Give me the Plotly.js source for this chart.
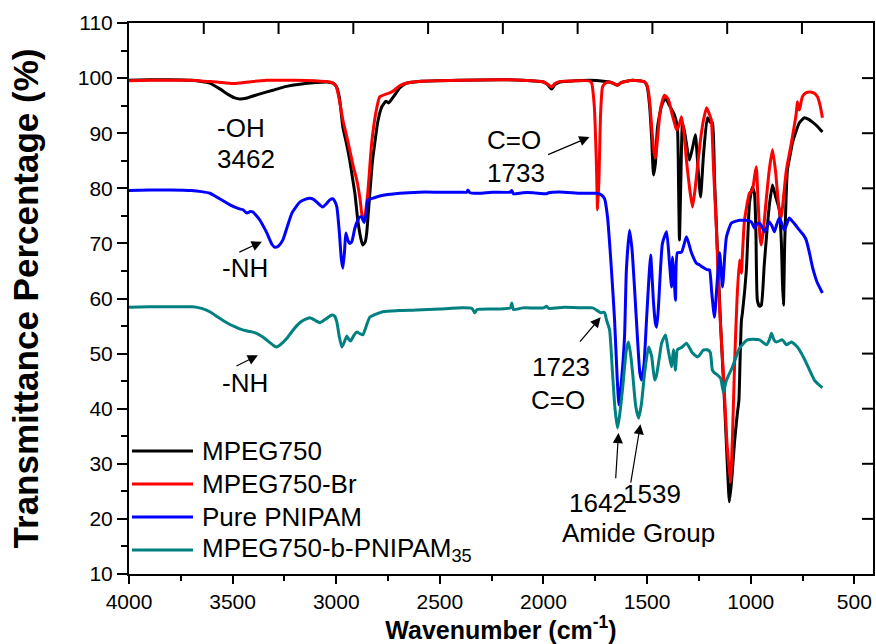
<!DOCTYPE html>
<html>
<head>
<meta charset="utf-8">
<script src="https://cdn.plot.ly/plotly-3.0.1.min.js"></script>
<style>html,body{margin:0;padding:0;background:#fff;}#chart{width:876px;height:644px;}</style>
</head>
<body>
<div id="chart"></div>
<script>
// ---------- DATA ----------
const seriesNames = ["MPEG750", "MPEG750-Br", "Pure PNIPAM", "MPEG750-b-PNIPAM<sub>35</sub>"];
const seriesColors = ["#000000", "#ff0000", "#0000ff", "#008080"];

const mpegWn = [4000,3900,3800,3700,3650,3610,3560,3520,3490,3465,3430,3380,3306,3240,3176,3100,3045,3016,3000,2985,2968,2950,2935,2920,2910,2896,2882,2872,2860,2853,2838,2825,2814,2800,2780,2760,2748,2742,2720,2694,2660,2600,2400,2211,2100,2000,1980,1961,1945,1920,1850,1778,1700,1681,1660,1643,1625,1570,1512,1500,1488,1478,1469,1460,1450,1430,1411,1392,1368,1354,1348,1344,1338,1329,1318,1296,1280,1267,1255,1242,1228,1209,1195,1185,1175,1160,1145,1125,1112,1103,1092,1078,1065,1057,1052,1045,1040,1021,1006,992,982,975,968,958,949,935,924,910,895,880,862,852,847,842,836,823,810,799,780,765,741,720,702,680,654];
const mpegT = [99.6,99.7,99.7,99.6,99.4,99.1,98.0,97.0,96.4,96.2,96.4,97.0,97.8,98.5,98.9,99.2,99.3,99.1,98.5,96.5,91.1,88.0,85.1,81.5,79.1,74.2,71.0,69.7,70.3,71.9,79.1,85.0,88.2,92.0,94.8,95.8,95.5,95.7,96.8,98.2,99.1,99.4,99.6,99.7,99.6,99.3,98.8,98.0,98.8,99.3,99.5,99.6,99.4,99.3,99.0,98.7,99.2,99.6,99.3,98.5,95.0,89.0,82.4,84.5,91.0,95.0,96.4,95.0,93.3,91.1,80.0,70.6,80.0,91.9,90.0,85.1,87.5,89.7,84.0,78.4,86.0,92.8,92.0,91.9,82.0,68.0,55.0,40.0,29.0,23.1,27.0,34.0,39.0,41.5,48.0,56.0,57.4,65.2,77.3,80.2,79.1,72.0,59.7,58.6,58.8,66.0,71.2,77.0,80.6,78.5,76.1,70.0,63.0,58.8,70.0,83.3,86.0,88.2,90.5,91.9,92.8,92.5,92.0,91.3,90.2];

const brWn = [4000,3900,3800,3700,3620,3576,3500,3465,3400,3335,3200,3100,3045,3016,3000,2985,2968,2950,2935,2918,2901,2885,2872,2862,2848,2838,2829,2810,2790,2760,2742,2720,2694,2660,2600,2400,2211,2100,2000,1980,1961,1945,1920,1850,1780,1768,1755,1745,1739,1732,1725,1715,1700,1681,1660,1643,1625,1570,1512,1500,1488,1478,1466,1459,1450,1435,1416,1400,1392,1380,1368,1358,1345,1334,1322,1310,1295,1281,1268,1257,1245,1230,1213,1200,1190,1180,1165,1150,1130,1115,1098,1088,1078,1066,1054,1045,1040,1030,1006,992,980,973,965,955,949,940,925,910,895,880,871,860,852,843,828,804,780,775,768,765,751,735,717,695,678,665,654];
const brT = [99.5,99.6,99.6,99.6,99.4,99.3,99.0,99.1,99.4,99.6,99.6,99.5,99.4,99.1,98.5,96.0,92.4,89.5,87.0,84.0,81.5,78.0,74.2,75.0,79.1,84.0,88.2,93.5,96.6,97.1,97.3,97.8,98.6,99.1,99.4,99.6,99.7,99.6,99.3,98.9,98.4,99.0,99.4,99.5,99.5,99.1,95.0,85.0,76.1,82.0,93.0,98.4,99.1,99.3,99.0,98.7,99.2,99.6,99.3,98.7,96.0,91.0,86.5,85.5,89.0,94.5,96.9,96.3,95.5,93.5,91.9,90.6,91.5,93.0,90.0,85.0,80.0,76.6,80.0,83.9,88.0,92.0,94.6,93.5,92.4,84.0,72.0,58.0,45.0,34.0,26.7,35.0,48.0,60.0,67.0,64.6,68.0,74.2,79.1,79.7,82.5,83.9,78.0,71.0,69.7,72.0,78.0,83.5,87.0,83.0,79.1,75.5,74.8,78.0,83.3,88.2,93.7,95.7,94.5,94.2,96.6,97.3,97.5,97.3,96.6,95.0,92.8];

const pnipamWn = [4000,3900,3800,3700,3650,3610,3576,3540,3513,3470,3450,3431,3415,3402,3385,3368,3350,3335,3310,3296,3280,3258,3235,3214,3195,3176,3150,3127,3110,3094,3065,3045,3031,3016,3005,2997,2985,2975,2968,2960,2954,2944,2935,2925,2910,2895,2886,2877,2865,2855,2848,2838,2790,2694,2600,2500,2400,2370,2365,2355,2308,2250,2160,2153,2145,2100,2050,1985,1975,1900,1826,1744,1720,1705,1691,1672,1657,1645,1636,1625,1609,1600,1585,1573,1561,1546,1535,1527,1515,1503,1490,1483,1469,1460,1454,1446,1440,1426,1406,1392,1382,1377,1370,1363,1354,1334,1310,1286,1262,1247,1233,1209,1199,1188,1175,1162,1150,1136,1125,1117,1093,1054,1006,995,982,970,958,946,934,922,910,898,886,874,862,850,838,826,814,790,765,745,732,715,702,680,654];
const pnipamT = [79.6,79.7,79.7,79.6,79.4,79.1,78.4,77.6,77.0,76.3,76.1,75.5,75.8,75.7,75.0,74.2,73.0,71.9,69.8,69.3,69.5,70.6,73.2,75.5,76.6,77.5,78.0,78.2,78.0,77.5,76.6,77.3,77.9,78.1,77.5,76.6,72.0,67.0,65.5,68.5,71.9,70.6,70.0,70.3,72.8,74.3,74.8,74.8,73.8,75.5,77.9,78.0,78.6,79.1,79.3,79.3,79.3,79.3,79.7,79.2,79.1,79.3,79.3,79.6,79.0,79.2,79.2,79.0,79.2,79.3,79.1,79.1,78.8,78.1,74.8,65.2,56.1,46.0,40.7,44.5,53.0,65.2,72.4,69.0,62.1,52.5,46.5,45.2,48.0,56.0,64.5,67.9,59.2,55.5,54.8,58.0,62.1,70.0,72.1,66.4,62.1,67.5,64.0,59.7,68.3,68.4,71.2,68.3,66.4,66.1,65.7,65.2,65.2,61.0,56.6,63.0,68.3,62.1,68.0,71.2,73.7,74.2,74.1,73.8,72.8,73.5,73.7,73.0,72.1,73.0,73.9,73.2,72.1,73.5,74.6,73.6,72.4,73.5,74.6,73.6,72.4,71.5,70.6,68.0,65.7,63.0,61.0];

const copoWn = [4000,3900,3800,3692,3650,3610,3570,3528,3490,3465,3430,3402,3375,3354,3320,3300,3287,3270,3238,3210,3176,3150,3127,3100,3079,3050,3021,3008,2997,2985,2973,2962,2949,2940,2930,2915,2901,2885,2872,2855,2838,2775,2700,2612,2500,2390,2345,2332,2320,2250,2211,2160,2153,2145,2100,2000,1985,1975,1900,1800,1763,1740,1724,1712,1705,1695,1681,1667,1655,1643,1632,1619,1600,1590,1580,1570,1555,1541,1527,1512,1493,1478,1464,1455,1440,1430,1411,1400,1392,1382,1373,1363,1354,1330,1310,1281,1257,1247,1230,1209,1195,1185,1175,1160,1145,1132,1117,1088,1070,1054,1016,958,924,910,900,888,876,847,828,804,775,755,732,710,693,670,654];
const copoT = [58.4,58.5,58.5,58.5,58.2,57.6,56.6,55.6,54.9,54.5,54.1,53.9,53.5,53.0,52.0,51.4,51.2,51.6,52.8,54.2,55.6,56.2,56.5,56.0,55.6,56.3,57.0,56.8,55.7,53.0,51.2,52.0,53.2,52.6,52.3,53.3,53.9,53.6,53.4,55.0,56.6,57.6,57.8,57.9,58.1,58.3,58.2,57.4,58.0,58.1,58.1,58.3,59.2,58.0,58.3,58.3,58.6,58.2,58.4,58.3,58.3,57.8,57.4,57.5,57.4,56.0,54.3,46.5,40.0,36.5,39.0,43.4,50.7,52.1,50.0,46.5,40.5,38.3,41.0,46.5,51.2,49.5,45.2,46.0,49.5,51.9,53.4,51.0,49.4,47.6,50.7,47.0,50.7,51.2,51.9,50.1,49.4,49.7,50.6,50.7,50.2,47.0,46.5,46.1,45.5,43.0,45.2,47.6,49.5,51.0,52.5,52.5,51.6,52.5,53.7,52.5,52.1,52.5,51.6,52.1,51.2,50.0,48.3,46.5,45.2,44.3,43.8];

const xTickVals = [4000, 3500, 3000, 2500, 2000, 1500, 1000, 500];
const xMinorVals = [3750, 3250, 2750, 2250, 1750, 1250, 750];
const yTickVals = [10, 20, 30, 40, 50, 60, 70, 80, 90, 100, 110];
// inner ticks of the top frame (equal divisions) and right frame
const topTickFrac = [0.1, 0.2, 0.3, 0.4, 0.5, 0.6, 0.7, 0.8, 0.9];
const rightTickVals = [20, 30, 40, 50, 60, 70, 80, 90, 100];

// ---------- CHART ----------
const xs = [mpegWn, brWn, pnipamWn, copoWn];
const ys = [mpegT, brT, pnipamT, copoT];
const traces = xs.map((x, i) => ({
  x: x, y: ys[i], type: 'scatter', mode: 'lines', name: seriesNames[i],
  line: {color: seriesColors[i], width: 3, shape: 'spline', smoothing: 0.5},
  showlegend: false, hoverinfo: 'skip'
}));

const FONT = 'Arial, "Liberation Sans", sans-serif';
const txtFont = {family: FONT, size: 26, color: '#000'};
const PW = 744, PH = 551; // plot area size in px

const shapes = [];
const annotations = [];
// frame ticks
topTickFrac.forEach(f => {
  const xf = f * 1.005;
  shapes.push({type: 'line', xref: 'paper', yref: 'paper', x0: xf, x1: xf, y0: 1, y1: 1 - 11 / PH,
    layer: 'above', line: {color: '#000', width: 2}});
});
rightTickVals.forEach(v => {
  shapes.push({type: 'line', xref: 'paper', yref: 'y', x0: 1, x1: 1 - 11 / PW, y0: v, y1: v,
    layer: 'above', line: {color: '#000', width: 2}});
});
// custom legend
const legY = [0.2232, 0.1633, 0.1034, 0.0436];
seriesNames.forEach((n, i) => {
  shapes.push({type: 'line', xref: 'paper', yref: 'paper', x0: 0.004, x1: 0.086, y0: legY[i], y1: legY[i],
    line: {color: seriesColors[i], width: 3}});
  annotations.push({xref: 'paper', yref: 'paper', x: 0.095, y: legY[i], xanchor: 'left', yanchor: 'middle',
    text: n, showarrow: false, font: txtFont});
});

function lab(text, x, y) {
  annotations.push({xref: 'x', yref: 'y', x: x, y: y, text: text, showarrow: false, font: txtFont,
    xanchor: 'center', yanchor: 'middle'});
}
function arr(x, y, ax, ay) {
  annotations.push({xref: 'x', yref: 'y', axref: 'x', ayref: 'y', x: x, y: y, ax: ax, ay: ay, text: '',
    showarrow: true, arrowhead: 2, arrowsize: 1.7, arrowwidth: 1.2, arrowcolor: '#000'});
}
lab('-OH', 3460, 90.9);
lab('3462', 3436, 85.3);
lab('C=O', 2144, 88.8);
lab('1733', 2134, 82.8);
lab('-NH', 3441, 65.5);
lab('-NH', 3441, 44.7);
lab('1723', 1917, 47.6);
lab('C=O', 1932, 41.6);
lab('1642', 1739, 22.9);
lab('1539', 1474, 24.5);
lab('Amide Group', 1541, 17.4);
arr(1778, 89.3, 1985, 86.0);
arr(3359, 70.3, 3475, 68.3);
arr(3378, 49.7, 3489, 47.6);
arr(1724, 56.6, 1830, 51.9);
arr(1638, 35.6, 1652, 27.1);
arr(1532, 37.2, 1580, 26.3);

const layout = {
  width: 876, height: 644,
  margin: {l: 129, r: 3, t: 23, b: 70},
  paper_bgcolor: '#fff', plot_bgcolor: '#fff',
  font: {family: FONT, color: '#000'},
  showlegend: false,
  xaxis: {
    range: [4000, 410], autorange: false, tickvals: xTickVals,
    ticks: 'outside', ticklen: 8, tickwidth: 2, tickcolor: '#000',
    minor: {tickvals: xMinorVals, ticks: 'outside', ticklen: 5, tickwidth: 2, tickcolor: '#000'},
    showline: true, linewidth: 2, linecolor: '#000', mirror: true,
    showgrid: false, zeroline: false,
    tickfont: {family: FONT, size: 21, color: '#000'},
    title: {text: '<b>Wavenumber (cm<sup>-1</sup>)</b>', font: {family: FONT, size: 25, color: '#000'}, standoff: 5}
  },
  yaxis: {
    range: [10, 110], autorange: false, tickvals: yTickVals,
    ticks: 'outside', ticklen: 10, tickwidth: 2, tickcolor: '#000',
    minor: {dtick: 5, tick0: 5, ticks: 'outside', ticklen: 6, tickwidth: 2, tickcolor: '#000'},
    showline: true, linewidth: 2, linecolor: '#000', mirror: true,
    showgrid: false, zeroline: false,
    tickfont: {family: FONT, size: 21, color: '#000'},
    title: {text: '<b>Transmittance Percentage (%)</b>', font: {family: FONT, size: 35, color: '#000'}, standoff: 29}
  },
  shapes: shapes,
  annotations: annotations
};

Plotly.newPlot('chart', traces, layout, {staticPlot: true, displayModeBar: false});
</script>
</body>
</html>
